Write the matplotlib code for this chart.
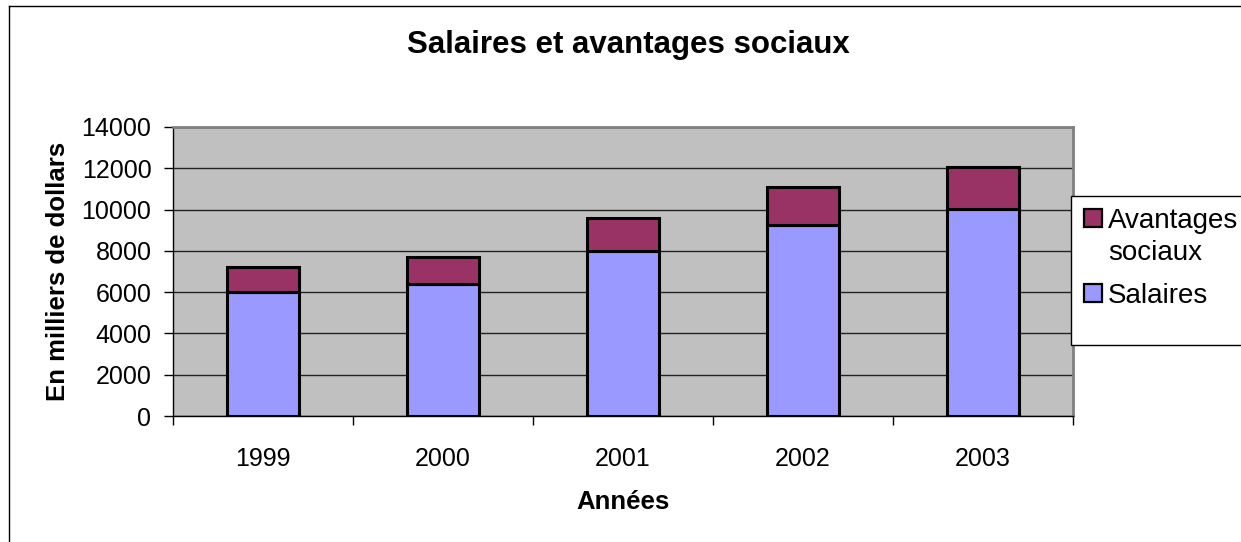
import matplotlib
matplotlib.use("Agg")
import matplotlib.pyplot as plt
from matplotlib.patches import Rectangle
from matplotlib.lines import Line2D
import numpy as np

years = ["1999", "2000", "2001", "2002", "2003"]
salaires = [6000, 6400, 8000, 9250, 10050]
avantages = [1200, 1300, 1600, 1850, 2000]
yticks = [0, 2000, 4000, 6000, 8000, 10000, 12000, 14000]

plt.rcParams['font.family'] = ['Liberation Sans', 'DejaVu Sans']

W, H = 1241, 542
fig = plt.figure(figsize=(W / 100, H / 100), dpi=100)
fig.patch.set_facecolor('white')

def px(x0, y0, x1, y1):
    return [x0 / W, 1 - y1 / H, (x1 - x0) / W, (y1 - y0) / H]

# outer border (left & top visible)
fig.add_artist(Line2D([8.5 / W, 8.5 / W], [0, 1 - 5.5 / H], color='black', lw=1.0))
fig.add_artist(Line2D([8.5 / W, 1], [1 - 5.5 / H, 1 - 5.5 / H], color='black', lw=1.0))

ax = fig.add_axes(px(173, 127, 1073, 416))
ax.set_facecolor('#C0C0C0')
x = np.arange(len(years))
w = 0.405
b1 = ax.bar(x, salaires, w, color='#9999FF', edgecolor='black', linewidth=2.2, label='Salaires', zorder=3)
b2 = ax.bar(x, avantages, w, bottom=salaires, color='#993366', edgecolor='black', linewidth=2.2,
            label='Avantages sociaux', zorder=3)

ax.set_xlim(-0.5, len(years) - 0.5)
ax.set_ylim(0, 14000)
ax.set_yticks(yticks)
ax.set_yticklabels([str(v) for v in yticks], fontsize=18)
ax.yaxis.grid(True, color='#222222', lw=1.0, zorder=1)
ax.set_axisbelow(True)

ax.set_xticks(x)
ax.set_xticklabels(years, fontsize=18)
ax.tick_params(axis='x', length=0, pad=22)
ax.set_xticks(np.arange(-0.5, len(years)), minor=True)
ax.tick_params(axis='x', which='minor', length=6.5, width=1, color='black', direction='out')
ax.tick_params(axis='y', length=6.5, width=1, color='black', direction='out', pad=9)

for s in ['top', 'right']:
    ax.spines[s].set_color('#808080')
    ax.spines[s].set_linewidth(2)
for s in ['left', 'bottom']:
    ax.spines[s].set_color('black')
    ax.spines[s].set_linewidth(1)

ax.set_ylabel('En milliers de dollars', fontsize=18.5, fontweight='bold', labelpad=8)
ax.set_xlabel('Années', fontsize=18.5, fontweight='bold', labelpad=14)

fig.text(628 / W, 1 - 45 / H, 'Salaires et avantages sociaux', fontsize=22.5, fontweight='bold',
         ha='center', va='center')

# legend (drawn in pixel coordinates of its own box)
lax = fig.add_axes(px(1071, 196, 1260, 345))
lax.set_xlim(1071, 1260)
lax.set_ylim(345, 196)
lax.set_axis_off()
lax.add_patch(Rectangle((0, 0), 1, 1, transform=lax.transAxes, facecolor='white',
                        edgecolor='black', lw=1.0, clip_on=False))
entries = [(b2.patches[0].get_facecolor(), ['Avantages', 'sociaux'], 218),
           (b1.patches[0].get_facecolor(), ['Salaires'], 293)]
for col, lines, yc in entries:
    lax.add_patch(Rectangle((1083.5, yc - 9), 18.5, 18, facecolor=col, edgecolor='black',
                            lw=1.6, clip_on=False))
    for i, t in enumerate(lines):
        lax.text(1108, yc + i * 32, t, fontsize=20, ha='left', va='center_baseline',
                 clip_on=False)

fig.savefig('out.png', dpi=100, facecolor='white')
